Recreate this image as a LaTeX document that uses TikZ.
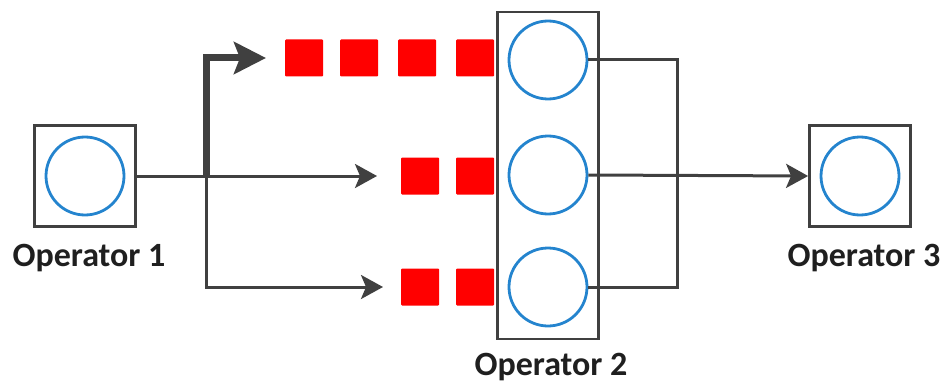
\documentclass[tikz,border=0pt]{standalone}
\usepackage{fontspec}
\setmainfont{Carlito}
\usetikzlibrary{arrows.meta}
\definecolor{linegray}{RGB}{64,64,64}
\definecolor{opblue}{RGB}{36,132,206}
\definecolor{qred}{RGB}{255,0,0}
\begin{document}
\begin{tikzpicture}[x=1pt,y=-1pt,
  opbox/.style={draw=linegray, line width=2.8pt, minimum width=101pt, minimum height=101pt, inner sep=0pt},
  slot/.style={circle, draw=opblue, line width=2.8pt, minimum size=78pt, inner sep=0pt},
  tuple/.style={fill=qred, minimum width=38pt, minimum height=37pt, inner sep=0pt, rounded corners=1pt},
  oplabel/.style={font=\bfseries\fontsize{34}{37}\selectfont, text=black!88, inner sep=0pt},
  flow/.style={draw=linegray, line width=3pt},
  flowarrow/.style={flow, -{Stealth[length=22pt,width=24pt,inset=5pt]}},
  bigflow/.style={draw=linegray, line width=7pt, line join=miter, -{Stealth[length=32pt,width=32pt,inset=6pt]}},
]
\useasboundingbox (0,0) rectangle (944,385);

% operators
\node[opbox] (op1) at (85,176) {};
\node[slot] (c1) at (op1.center) {};
\node[oplabel] (l1) at (89,258) {Operator 1};

\node[opbox, minimum height=327pt] (op2) at (548,175.5) {};
\node[slot] (c2a) at (548,60) {};
\node[slot] (c2b) at (548,175) {};
\node[slot] (c2c) at (548,287) {};
\node[oplabel] (l2) at (551,367) {Operator 2};

\node[opbox] (op3) at (860,176) {};
\node[slot] (c3) at (op3.center) {};
\node[oplabel] (l3) at (864,258) {Operator 3};

% queued tuples
\node[tuple] (qa1) at (304,58) {};
\node[tuple] (qa2) at (359,58) {};
\node[tuple] (qa3) at (417,58) {};
\node[tuple] (qa4) at (475,58) {};
\node[tuple] (qb1) at (420,176) {};
\node[tuple] (qb2) at (475,176) {};
\node[tuple] (qc1) at (420,287) {};
\node[tuple] (qc2) at (475,287) {};

% routing points
\coordinate (split) at (206,176);
\coordinate (tA) at (266,58);
\coordinate (tB) at (377,176);
\coordinate (tC) at (383,287);
\coordinate (merge) at (677,176);

% partitioning from operator 1
\draw[flowarrow] (op1.east) -- (tB);
\draw[flowarrow] (split) |- (tC);
\draw[bigflow] (split) |- (tA);

% merging into operator 3
\draw[flow] (c2a.east) -| (merge);
\draw[flow] (c2c.east) -| (merge);
\draw[flowarrow] (c2b.east) -- (op3.west);
\end{tikzpicture}
\end{document}
